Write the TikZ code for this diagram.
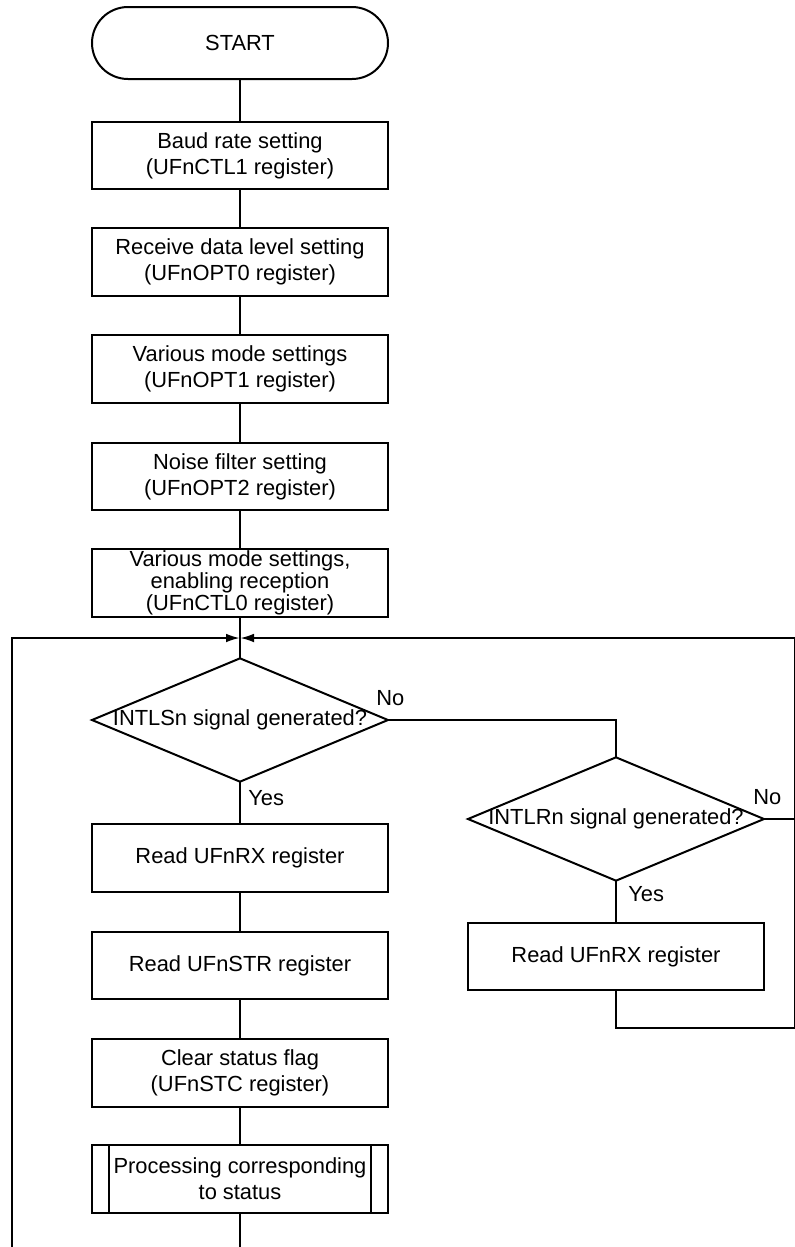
\documentclass[tikz,border=0pt]{standalone}
\usepackage{fontspec}
\setmainfont{Liberation Sans}
\usepackage{tikz}
\usetikzlibrary{shapes.geometric, arrows.meta}

\begin{document}
\begin{tikzpicture}[x=0.75pt, y=-0.75pt,
  txt/.style={font=\fontsize{16.4}{19.5}\selectfont},
  box/.style={txt, draw, line width=1.5pt, outer sep=0pt, inner sep=0pt,
    minimum width=222pt, minimum height=50.5pt, align=center},
  terminal/.style={box, rounded corners=27pt, minimum height=54pt},
  decision/.style={txt, draw, diamond, line width=1.5pt, outer sep=0pt, inner sep=0pt,
    minimum width=222pt, minimum height=92.5pt},
  line/.style={line width=0.9pt},
  arrow/.style={line, -{Latex[length=10pt, width=6.5pt]}},
  lbl/.style={txt, inner sep=0pt, anchor=base west}]

\useasboundingbox (0,0) rectangle (795,1247);

% main column
\node[terminal] (start) at (240,43) {START};
\node[box] (baud) at (240,155.5) {Baud rate setting\\(UFnCTL1 register)};
\node[box] (level) at (240,262) {Receive data level setting\\(UFnOPT0 register)};
\node[box] (mode) at (240,369) {Various mode settings\\(UFnOPT1 register)};
\node[box] (noise) at (240,476.5) {Noise filter setting\\(UFnOPT2 register)};
\node[box, font=\fontsize{16.4}{12.75}\selectfont] (enable) at (240,583)
  {Various mode settings,\\enabling reception\\(UFnCTL0 register)};

\node[decision] (intls) at (240,720) {\makebox[0pt]{INTLSn signal generated?}};
\node[box] (readrx) at (240,858) {Read UFnRX register};
\node[box] (readstr) at (240,965.5) {Read UFnSTR register};
\node[box] (clear) at (240,1073) {Clear status flag\\(UFnSTC register)};
\node[box] (proc) at (240,1179) {Processing corresponding\\to status};
\draw[line width=1.5pt] ([xshift=12.75pt]proc.north west) -- ([xshift=12.75pt]proc.south west);
\draw[line width=1.5pt] ([xshift=-12.75pt]proc.north east) -- ([xshift=-12.75pt]proc.south east);

% right branch
\node[decision] (intlr) at (616,819) {\makebox[0pt]{INTLRn signal generated?}};
\node[box] (readrx2) at (616,956.5) {Read UFnRX register};

\node[lbl] (no1) at (376,705) {No};
\node[lbl] (yes1) at (248,805) {Yes};
\node[lbl] (no2) at (753,804) {No};
\node[lbl] (yes2) at (628,901) {Yes};

% loop points
\coordinate (merge) at (240,638);
\coordinate (lt) at (12,638);
\coordinate (lb) at (12,1247);
\coordinate (bot) at (240,1247);
\coordinate (rb) at (616,1028);
\coordinate (rc) at (794.5,1028);
\coordinate (rt) at (794.5,638);
\coordinate (rm) at (794.5,819);

\draw[line] (start) -- (baud);
\draw[line] (baud) -- (level);
\draw[line] (level) -- (mode);
\draw[line] (mode) -- (noise);
\draw[line] (noise) -- (enable);
\draw[line] (enable) -- (intls);
\draw[line] (intls) -- (readrx);
\draw[line] (readrx) -- (readstr);
\draw[line] (readstr) -- (clear);
\draw[line] (clear) -- (proc);
\draw[line] (proc) -- (bot);

\draw[line] (intls.east) -| (intlr.north);
\draw[line] (intlr) -- (readrx2);
\draw[line] (intlr.east) -- (rm);
\draw[line] (readrx2.south) -- (rb) -- (rc) -- (rt);

% merge arrows
\draw[arrow] (lb) -- (lt) -- ([xshift=-0.5pt]merge);
\draw[arrow] (rt) -- ([xshift=0.5pt]merge);

\end{tikzpicture}
\end{document}
